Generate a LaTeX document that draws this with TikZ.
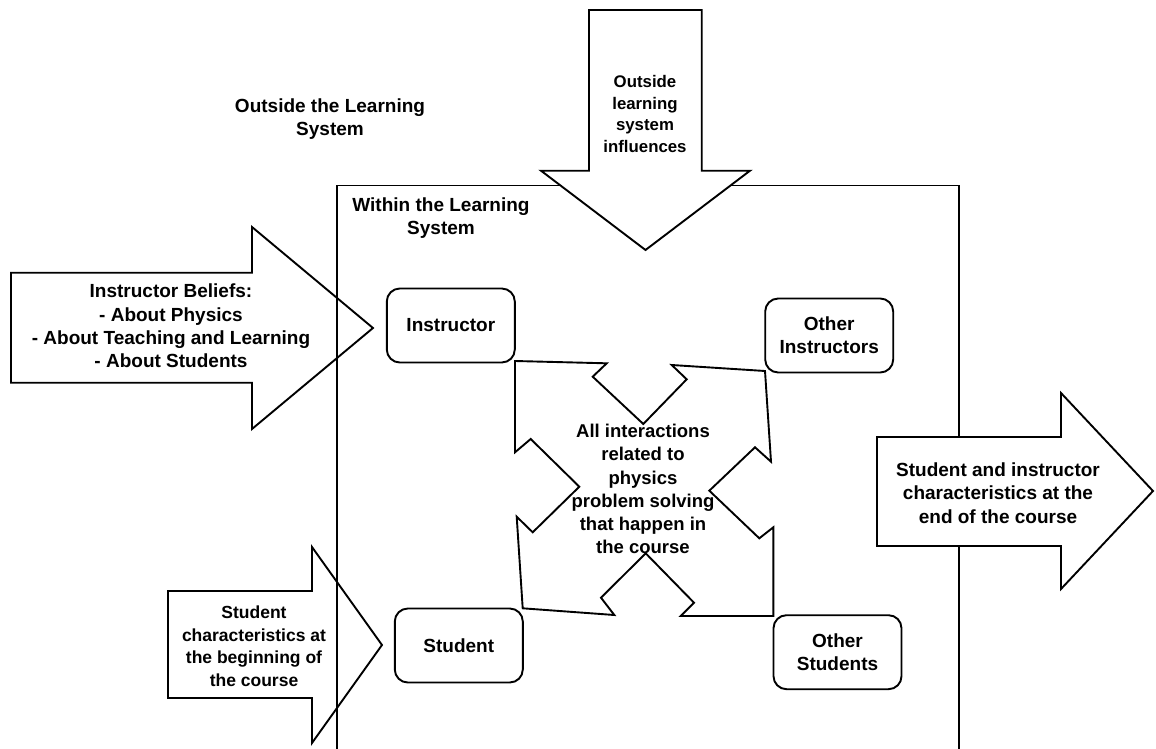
\documentclass[tikz,border=0pt]{standalone}
\usepackage{fontspec}
\setmainfont{Liberation Sans}
\begin{document}
\begin{tikzpicture}[x=1pt,y=-1pt,line width=1.9pt,line join=miter,
  shp/.style={draw=black,fill=white},
  lbl/.style={align=center,font=\fontsize{19}{23.3}\selectfont\bfseries,inner sep=0pt},
  lblsmall/.style={align=center,font=\fontsize{17.5}{22.5}\selectfont\bfseries,inner sep=0pt},
  lbldown/.style={align=center,font=\fontsize{16.8}{21.7}\selectfont\bfseries,inner sep=0pt},
  lblmid/.style={align=center,font=\fontsize{18.5}{23.2}\selectfont\bfseries,inner sep=0pt},
  boxnode/.style={draw=black,fill=white,rounded corners=13pt,minimum width=128pt,minimum height=74pt,align=center,font=\fontsize{19}{23.3}\selectfont\bfseries,inner sep=0pt}]
\useasboundingbox (0,0) rectangle (1156,749);

% left incoming arrows (under the system border)
\draw[shp] (11,272.7) -- (252,272.7) -- (252,227) -- (373,328) -- (252,429) -- (252,382.7) -- (11,382.7) -- cycle;
\draw[shp] (168,591) -- (312,591) -- (312,547) -- (382,645) -- (312,743) -- (312,698) -- (168,698) -- cycle;

% learning system border
\draw (337,749) -- (337,185.5) -- (959,185.5) -- (959,749);

% arrows above the border
\draw[shp] (589,10) -- (701.7,10) -- (701.7,170.7) -- (750,170.7) -- (645.5,250) -- (541,170.7) -- (589,170.7) -- cycle;
\draw[shp] (877,437) -- (1061,437) -- (1061,393) -- (1153,491) -- (1061,589) -- (1061,546) -- (877,546) -- cycle;

% central four-way arrow
\draw[shp] (515,361) -- (606.7,363.3) -- (592.7,376.7) -- (643.3,424) -- (686.7,379.3) -- (671.7,365) -- (765,371)
  -- (771,461.7) -- (755,447.3) -- (709.3,490.7) -- (759.3,538.3) -- (773.3,527.3) -- (773.3,616)
  -- (680.7,616) -- (694,602.7) -- (645.7,553.3) -- (601,597.7) -- (614.3,615) -- (522.7,608.3)
  -- (516.7,516.7) -- (532.7,532.3) -- (579.3,486.7) -- (530.7,439) -- (515,452.3) -- cycle;

% texts
\node[lbl] (outside) at (330,119) {Outside the Learning\\System};
\node[lbl] (within) at (441,218) {Within the Learning\\System};
\node[lbldown] (influences) at (645,114) {Outside\\learning\\system\\influences};
\node[lbl] (beliefs) at (171,326) {Instructor Beliefs:\\- About Physics\\- About Teaching and Learning\\- About Students};
\node[lblsmall] (startchar) at (254,646) {Student\\characteristics at\\the beginning of\\the course};
\node[lbl] (endchar) at (998,493) {Student and instructor\\characteristics at the\\end of the course};
\node[lblmid] (interactions) at (643,489) {All interactions\\related to\\physics\\problem solving\\that happen in\\the course};

% actor boxes
\node[boxnode] (instructor) at (450.8,325.5) {Instructor};
\node[boxnode] (otherinstr) at (829.2,335.5) {Other\\Instructors};
\node[boxnode] (student) at (458.8,645.5) {Student};
\node[boxnode] (otherstud) at (837.5,652.2) {Other\\Students};
\end{tikzpicture}
\end{document}
